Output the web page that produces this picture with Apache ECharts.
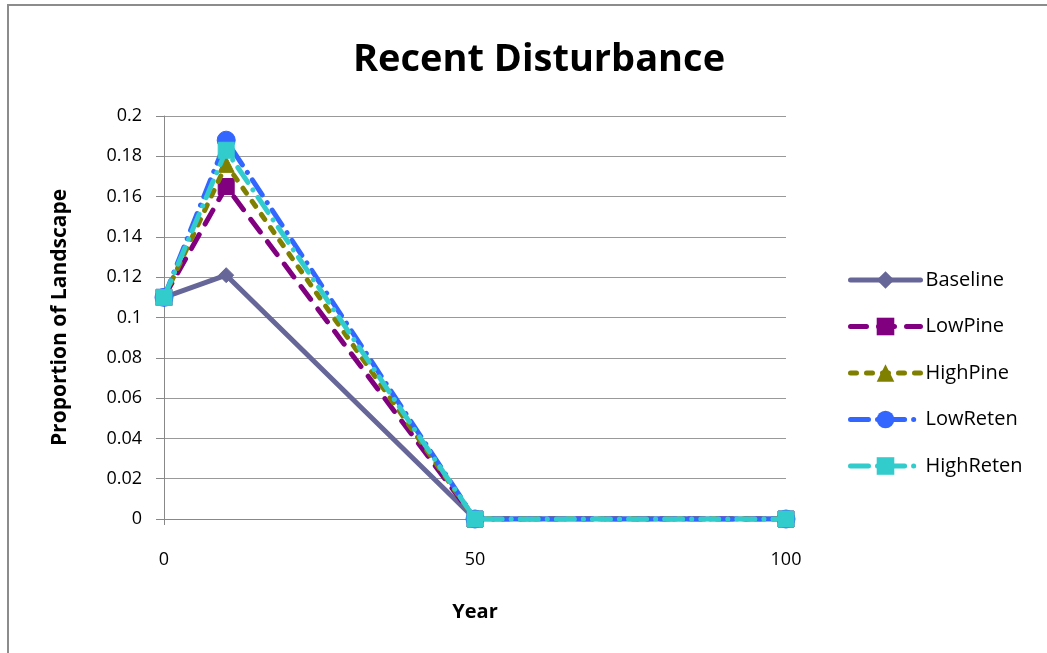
<!DOCTYPE html>
<html><head><meta charset="utf-8">
<script src="https://cdn.jsdelivr.net/npm/echarts@6/dist/echarts.min.js"></script>
<style>html,body{margin:0;padding:0;background:#fff}#c{width:1047px;height:653px}</style>
</head><body><div id="c"></div>
<script>
const years = [0, 10, 50, 100];
const baseline = [0.110, 0.121, 0, 0];
const lowPine = [0.110, 0.165, 0, 0];
const highPine = [0.110, 0.176, 0, 0];
const lowReten = [0.110, 0.188, 0, 0];
const highReten = [0.110, 0.183, 0, 0];
const seriesNames = ['Baseline', 'LowPine', 'HighPine', 'LowReten', 'HighReten'];

const pair = v => years.map((y, i) => [y, v[i]]);
const FONT = 'Open Sans';
const styles = [
  {c: '#666699', t: 'solid', s: 'diamond', z: 15},
  {c: '#800080', t: [16, 12], s: 'rect', z: 16},
  {c: '#808000', t: [6, 10], s: 'triangle', z: 16},
  {c: '#3366ff', t: [18, 9, 0.1, 9], s: 'circle', z: 18},
  {c: '#33cccc', t: [18, 9, 0.1, 9], s: 'rect', z: 16}
];
const vals = [baseline, lowPine, highPine, lowReten, highReten];

const chart = echarts.init(document.getElementById('c'));
chart.setOption({
  animation: false,
  backgroundColor: '#fff',
  title: {text: 'Recent Disturbance', left: 534, top: 36, textAlign: 'center',
    textStyle: {fontFamily: FONT, fontSize: 38, fontWeight: 'bold', color: '#000'}},
  graphic: [{type: 'rect', shape: {x: 8, y: 5, width: 1100, height: 700},
    style: {fill: 'none', stroke: '#8c8c8c', lineWidth: 2}, silent: true}],
  grid: {left: 164, right: 261, top: 116, bottom: 134},
  legend: {orient: 'vertical', left: 843, top: 265, itemWidth: 70, itemHeight: 22, itemGap: 26.5,
    data: seriesNames,
    lineStyle: {width: 5},
    textStyle: {fontFamily: FONT, fontSize: 20, color: '#000', lineHeight: 20}},
  xAxis: {type: 'value', min: 0, max: 100, interval: 50,
    name: 'Year', nameLocation: 'middle', nameGap: 83,
    nameTextStyle: {fontFamily: FONT, fontSize: 20, fontWeight: 'bold', color: '#000'},
    axisLine: {lineStyle: {color: '#888', width: 1}},
    axisTick: {show: true, inside: false, length: 6, lineStyle: {color: '#888'}},
    axisLabel: {fontFamily: FONT, fontSize: 18, color: '#000', margin: 32},
    splitLine: {show: false}},
  yAxis: {type: 'value', min: 0, max: 0.2, interval: 0.02,
    name: 'Proportion of Landscape', nameLocation: 'middle', nameGap: 93, nameRotate: 90,
    nameTextStyle: {fontFamily: FONT, fontSize: 21, fontWeight: 'bold', color: '#000'},
    axisLine: {show: true, lineStyle: {color: '#888', width: 1}},
    axisTick: {show: true, length: 8, lineStyle: {color: '#888'}},
    axisLabel: {fontFamily: FONT, fontSize: 18, color: '#000', margin: 22},
    splitLine: {lineStyle: {color: '#999', width: 1}}},
  series: vals.map((v, i) => ({
    name: seriesNames[i], type: 'line', data: pair(v),
    symbol: styles[i].s, symbolSize: styles[i].z,
    lineStyle: {color: styles[i].c, width: 5, type: styles[i].t, cap: 'round'},
    itemStyle: {color: styles[i].c, borderColor: styles[i].c},
    z: 2 + i
  }))
});
</script></body></html>
